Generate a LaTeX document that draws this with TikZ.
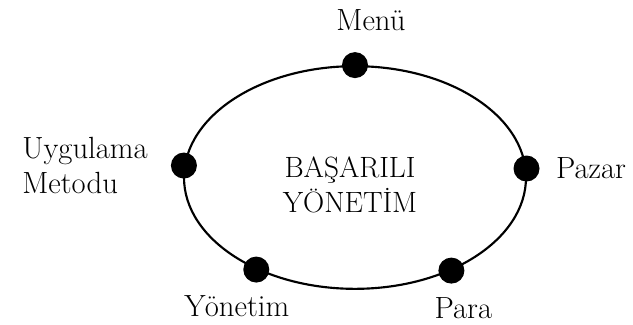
\documentclass[tikz,border=0pt]{standalone}
\usetikzlibrary{positioning,shapes.geometric}

\begin{document}
\begin{tikzpicture}[
  x=0.75pt, y=-0.75pt,
  node distance=10pt,
  oval/.style={draw, ellipse, line width=1.6pt, minimum width=256.5pt, minimum height=167pt, inner sep=0pt},
  spot/.style={circle, fill=black, minimum size=19.5pt, inner sep=0pt},
  word/.style={inner sep=0pt, align=left, font=\fontsize{23}{26}\selectfont}
]
\useasboundingbox (0,0) rectangle (633,325);

\node[oval] (oval) at (355,177.5) {};
\node[word, align=center, font=\fontsize{22}{26}\selectfont] (goal) at (350,185) {BAŞARILI\\YÖNETİM};

\node[spot] (menu) at (oval.90) {};
\node[spot] (pazar) at (oval.3.7) {};
\node[spot] (para) at (oval.316.8) {};
\node[spot] (yonetim) at (oval.223.3) {};
\node[spot] (metod) at (oval.176.8) {};

\node[word, above=15.75pt of menu, xshift=12pt] (menulbl) {Menü};
\node[word, right=12pt of pazar] (pazarlbl) {Pazar};
\node[word, below=10pt of para, xshift=9pt] (paralbl) {Para};
\node[word, below=9pt of yonetim, xshift=-14.6pt] (yonetimlbl) {Yönetim};
\node[word, left=17pt of metod] (metodlbl) {Uygulama\\Metodu};
\end{tikzpicture}
\end{document}
